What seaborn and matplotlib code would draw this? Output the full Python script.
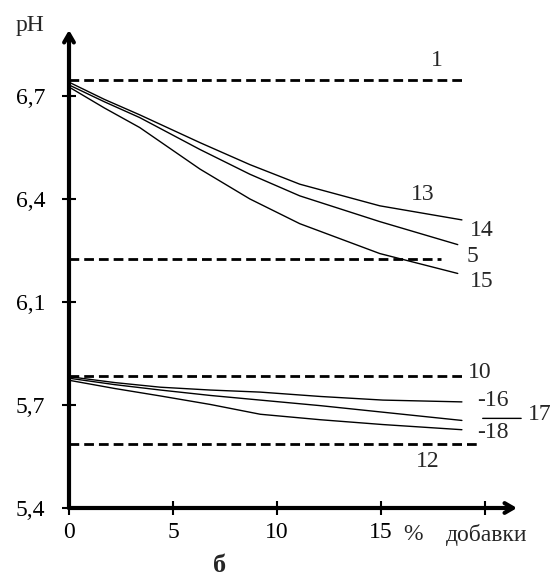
import numpy as np
import pandas as pd
import matplotlib
matplotlib.use("Agg")
import matplotlib.pyplot as plt
import seaborn as sns

sns.set_style("white")
plt.rcParams["font.family"] = ["Liberation Serif", "DejaVu Serif"]

# --- data: % additive vs pH ---
x_top = [0, 1.7, 3.4, 6.3, 8.7, 11.1, 14.95, 18.9]
ph_13 = [6.740, 6.690, 6.645, 6.564, 6.500, 6.443, 6.380, 6.339]
x_mid = [0, 1.7, 3.4, 6.3, 8.7, 11.1, 14.95, 18.7]
ph_14 = [6.732, 6.683, 6.637, 6.544, 6.472, 6.409, 6.334, 6.267]
ph_15 = [6.726, 6.665, 6.608, 6.487, 6.400, 6.328, 6.241, 6.183]

x_low = [0, 2.2, 4.4, 6.8, 9.2, 12.1, 15.1, 18.9]
ph_16 = [5.810, 5.787, 5.769, 5.758, 5.750, 5.733, 5.719, 5.712]
ph_17 = [5.804, 5.779, 5.758, 5.737, 5.719, 5.698, 5.679, 5.655]
ph_18 = [5.796, 5.764, 5.735, 5.702, 5.673, 5.657, 5.643, 5.628]

# constant (reference) series: level, end of line
ref_names = ["1", "5", "10", "12"]
ref_levels = [6.746, 6.224, 5.811, 5.586]
ref_ends = [18.9, 17.9, 18.9, 19.8]

ytick_vals = [5.4, 5.7, 6.1, 6.4, 6.7]
ytick_labels = ["5,4", "5,7", "6,1", "6,4", "6,7"]
xtick_vals = [0, 5, 10, 15, 20]
xtick_labels = ["0", "5", "10", "15", ""]

# hand-drawn axis: tick labels evenly spaced, so use a piecewise scale
anchors = [5.1, 5.4, 5.7, 6.1, 6.4, 6.7, 7.0]
steps = [-1, 0, 1, 2, 3, 4, 5]


def fwd(v):
    return np.interp(v, anchors, steps)


def inv(v):
    return np.interp(v, steps, anchors)


fig = plt.figure(figsize=(5.54, 5.83), dpi=100)
ax = fig.add_axes([69 / 554, 1 - 508 / 583, 448 / 554, 478 / 583])
ax.set_yscale("function", functions=(fwd, inv))

curves = pd.concat([
    pd.DataFrame({"x": x_top, "ph": ph_13, "curve": "13"}),
    pd.DataFrame({"x": x_mid, "ph": ph_14, "curve": "14"}),
    pd.DataFrame({"x": x_mid, "ph": ph_15, "curve": "15"}),
    pd.DataFrame({"x": x_low, "ph": ph_16, "curve": "16"}),
    pd.DataFrame({"x": x_low, "ph": ph_17, "curve": "17"}),
    pd.DataFrame({"x": x_low, "ph": ph_18, "curve": "18"}),
])
for name, grp in curves.groupby("curve"):
    sns.lineplot(data=grp, x="x", y="ph", ax=ax, color="black", lw=1.0,
                 legend=False)

for lvl, end in zip(ref_levels, ref_ends):
    sns.lineplot(x=[0, end], y=[lvl, lvl], ax=ax, color="black", lw=2.0,
                 linestyle=(0, (3.5, 1.8)), legend=False)

ax.set_xlim(0, 21.55)
ax.set_ylim(5.4, inv(4.64))
for s in ax.spines.values():
    s.set_visible(False)

# axes drawn as arrows
arrow = dict(arrowstyle="->,head_width=0.35,head_length=0.6", lw=3, color="black",
             shrinkA=0, shrinkB=0)
ax.annotate("", xy=(1, 0), xytext=(0, 0), xycoords="axes fraction",
            arrowprops=arrow, annotation_clip=False)
ax.annotate("", xy=(0, 1), xytext=(0, 0), xycoords="axes fraction",
            arrowprops=arrow, annotation_clip=False)

ax.set_yticks(ytick_vals, ytick_labels)
ax.set_xticks(xtick_vals, xtick_labels)
ax.yaxis.set_minor_locator(matplotlib.ticker.NullLocator())
ax.tick_params(axis="both", direction="inout", length=10, width=1.5,
               labelsize=17, colors="black")
ax.tick_params(axis="y", pad=12, left=True)
ax.tick_params(axis="x", pad=5, bottom=True)
ax.set_xlabel("")
ax.set_ylabel("")

fs = 17
labels = [
    ("1", 17.7, 6.804), ("13", 17.0, 6.414), ("14", 19.85, 6.308),
    ("5", 19.4, 6.233), ("15", 19.85, 6.161), ("10", 19.75, 5.827),
    ("-16", 20.4, 5.719), ("-18", 20.4, 5.619), ("12", 17.26, 5.535),
]
for txt, xx, yy in labels:
    ax.text(xx, yy, txt, fontsize=fs, ha="center", va="center", clip_on=False)
# label 17 with its leader line
ax.annotate("", xy=(21.75, 5.661), xytext=(19.9, 5.661),
            arrowprops=dict(arrowstyle="-", lw=1.0, color="black",
                            shrinkA=0, shrinkB=0), annotation_clip=False)
ax.text(23.2, 5.673, "17", fontsize=fs, ha="right", va="center", clip_on=False)

fig.text(30 / 554, 1 - 25 / 583, "pH", fontsize=fs, ha="center", va="center")
fig.text(413 / 554, 1 - 535 / 583, "%", fontsize=fs, ha="center", va="center")
fig.text(487 / 554, 1 - 535 / 583, "добавки", fontsize=fs, ha="center", va="center")
fig.text(220 / 554, 1 - 565 / 583, "б", fontsize=19, fontweight="bold",
         ha="center", va="center")

fig.savefig("out.png", dpi=100)
